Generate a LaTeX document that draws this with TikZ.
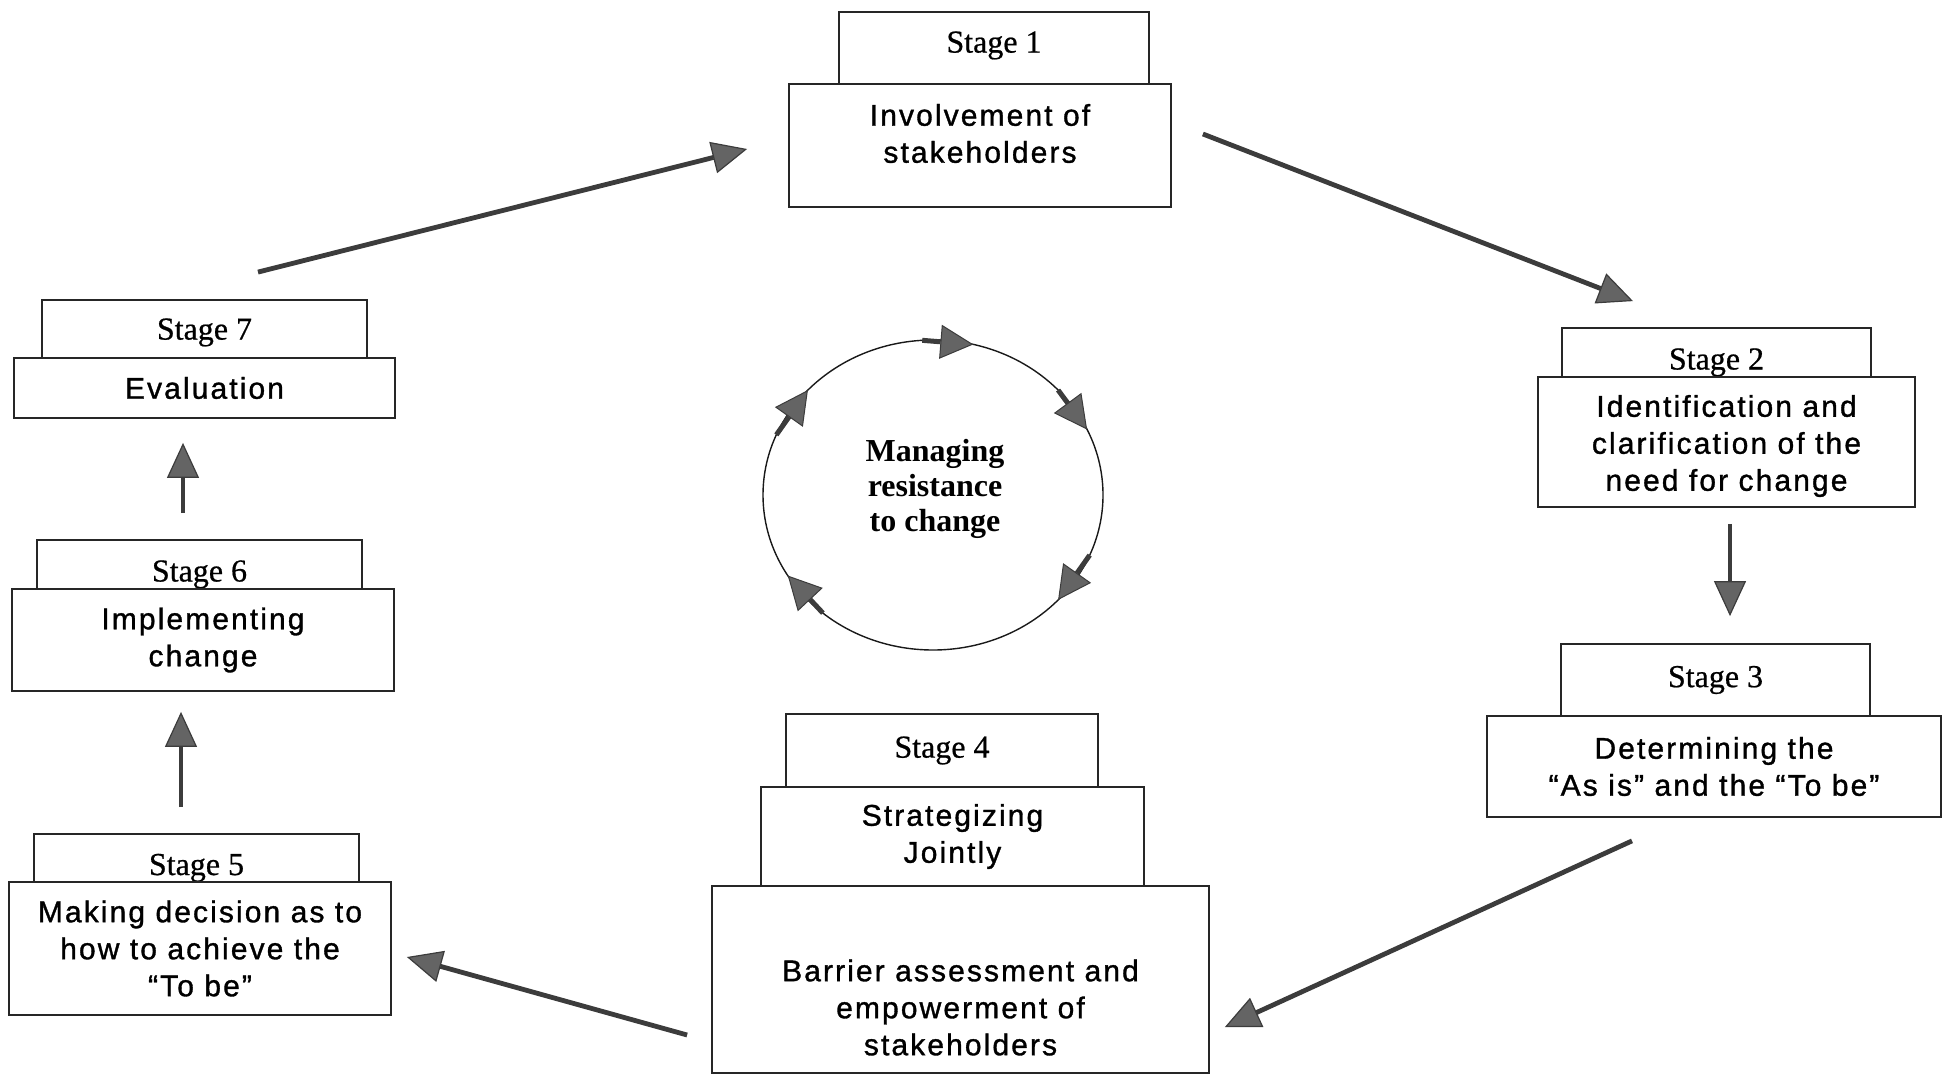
\documentclass[tikz,border=0pt]{standalone}
\usepackage{fontspec}
\setmainfont{Liberation Serif}[FakeBold=0.6]
\newfontfamily\boxfamily[LetterSpace=7,FakeBold=1.1]{Liberation Sans}
\newfontfamily\hubfamily{Liberation Serif Bold}
\usepackage{tikz}
\usetikzlibrary{positioning,arrows.meta,calc,shapes.geometric}
\newcommand{\boxfont}{\boxfamily\fontsize{15}{18.5}\selectfont}
\newcommand{\stagefont}{\fontsize{16}{19}\selectfont}
\newcommand{\hubfont}{\hubfamily\fontsize{16}{17.5}\selectfont}
\definecolor{inkgray}{RGB}{60,60,60}
\definecolor{tipgray}{RGB}{100,100,100}
\tikzset{
  stagetab/.style={draw=black!85, line width=0.9pt, fill=white, inner sep=0pt, font=\stagefont},
  lowtab/.style={stagetab, text height=17pt, text depth=0pt},
  stagebox/.style={draw=black!85, line width=0.9pt, fill=white, inner sep=0pt, align=center, font=\boxfont},
  boxtext/.style={inner sep=0pt, align=center, font=\boxfont},
  hub/.style={ellipse, draw=black!90, line width=0.7pt, inner sep=0pt, outer sep=0pt,
              minimum width=170pt, minimum height=155pt},
  hubtext/.style={inner sep=0pt, align=center, font=\hubfont},
  flow/.style={-{Triangle[length=17.5pt, width=16pt, line width=0.6pt, fill=tipgray]}, line width=2.4pt, draw=inkgray},
  cyc/.style={-{Triangle[length=16.5pt, width=17pt, line width=0.5pt, fill=tipgray]}, line width=2.5pt, draw=inkgray}
}

\begin{document}
\begin{tikzpicture}[x=0.5pt, y=-0.5pt]
  \useasboundingbox (0,0) rectangle (1943,1075);

  % stage 1
  \node[stagetab, text depth=6pt, minimum width=155pt, minimum height=36pt] (s1tab) at (994,48) {Stage 1};
  \node[stagebox, minimum width=191pt, minimum height=61.5pt] (s1) at (980,145.5) {};
  \node[boxtext] (s1txt) at ([shift={(0,-12)}]s1.center) {Involvement of\\stakeholders};

  % stage 2
  \node[lowtab, minimum width=154.5pt, minimum height=24.5pt] (s2tab) at (1716.5,352.5) {Stage 2};
  \node[stagebox, minimum width=188.5pt, minimum height=65pt] (s2) at (1726.5,442) {};
  \node[boxtext] (s2txt) at ([shift={(0,4)}]s2.center)
    {Identification and\\clarification of the\\need for change};

  % stage 3
  \node[stagetab, minimum width=154.5pt, minimum height=36pt] (s3tab) at (1715.5,680) {Stage 3};
  \node[stagebox, minimum width=227pt, minimum height=50.5pt] (s3) at (1714,766.5)
    {Determining the\\“As is” and the “To be”};

  % stage 4
  \node[stagetab, minimum width=156pt, minimum height=36.5pt] (s4tab) at (942,750.5) {Stage 4};
  \node[stagebox, minimum width=191.5pt, minimum height=49.5pt] (s4mid) at (952.5,836.5)
    {Strategizing\\Jointly};
  \node[stagebox, minimum width=248.5pt, minimum height=93.5pt] (s4) at (960.5,979.5) {};
  \node[boxtext] (s4txt) at ([shift={(0,28)}]s4.center)
    {Barrier assessment and\\empowerment of\\stakeholders};

  % stage 5
  \node[lowtab, minimum width=162.5pt, minimum height=24pt] (s5tab) at (196.5,858) {Stage 5};
  \node[stagebox, minimum width=191pt, minimum height=66.5pt] (s5) at (200,948.5)
    {Making decision as to\\how to achieve the\\“To be”};

  % stage 6
  \node[lowtab, minimum width=162.5pt, minimum height=24.5pt] (s6tab) at (199.5,564.5) {Stage 6};
  \node[stagebox, minimum width=191pt, minimum height=51pt] (s6) at (203,640)
    {Implementing\\change};

  % stage 7
  \node[stagetab, text depth=0pt, minimum width=162.5pt, minimum height=29pt] (s7tab) at (204.5,329) {Stage 7};
  \node[stagebox, minimum width=190.5pt, minimum height=30pt] (s7) at (204.5,388) {Evaluation};

  % cycle between the stages
  \draw[flow] ([shift={(31,-11.5)}]s1.east) -- ([shift={(-83.5,-26)}]s2tab.north);
  \draw[flow] ([shift={(3.5,16)}]s2.south) -- ([shift={(14.5,-27)}]s3tab.north);
  \draw[flow] ([shift={(-82,23)}]s3.south) -- ([shift={(15,47.5)}]s4.east);
  \draw[flow] ([shift={(-24,55.5)}]s4.west) -- ([shift={(15,8.5)}]s5.east);
  \draw[flow] ([shift={(-15.5,-26)}]s5tab.north) -- ([shift={(-22,20)}]s6.south);
  \draw[flow] ([shift={(-16.5,-26)}]s6tab.north) -- ([shift={(-21.5,24)}]s7.south);
  \draw[flow] ([shift={(53.5,-27)}]s7tab.north) -- ([shift={(-41,3.5)}]s1.west);

  % managing resistance
  \node[hub] (core) at (933,495) {};
  \node[hubtext] (coretxt) at ([shift={(2,-6)}]core.center) {Managing\\resistance\\to change};
  \draw[cyc] (core.94) -- (core.75);
  \draw[cyc] (core.40) -- (core.23);
  \draw[cyc] (core.-21) -- (core.-40);
  \draw[cyc] (core.227) -- (core.209);
  \draw[cyc] (core.159) -- (core.140);
\end{tikzpicture}
\end{document}
